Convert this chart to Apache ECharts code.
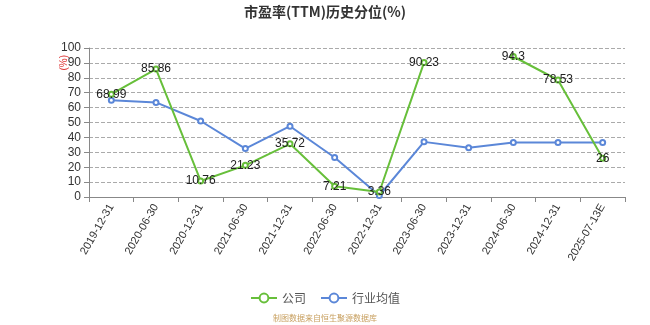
<!DOCTYPE html>
<html><head><meta charset="utf-8">
<script src="https://cdn.jsdelivr.net/npm/echarts@6/dist/echarts.min.js"></script>
<style>html,body{margin:0;padding:0;background:#fff}#c{width:650px;height:325px}</style>
</head><body><div id="c"></div>
<script>
var categories = ['2019-12-31','2020-06-30','2020-12-31','2021-06-30','2021-12-31','2022-06-30','2022-12-31','2023-06-30','2023-12-31','2024-06-30','2024-12-31','2025-07-13E'];
var companyValues = [68.99, 85.86, 10.76, 21.23, 35.72, 7.21, 3.36, 90.23, null, 94.3, 78.53, 26];
var industryValues = [65, 63.5, 51, 32.5, 47.5, 26.5, 1, 37, 33, 36.5, 36.5, 36.5];
var yTicks = {min: 0, max: 100, interval: 10};

var chart = echarts.init(document.getElementById('c'));
chart.setOption({
  animation: false,
  title: [{
    text: '市盈率(TTM)历史分位(%)', left: 'center', top: 0,
    textStyle: {fontSize: 14, fontWeight: 'bold', color: '#333', fontFamily: 'Noto Sans CJK SC'}
  }, {
    text: '制图数据来自恒生聚源数据库', left: 'center', top: 309,
    textStyle: {fontSize: 8, fontWeight: 'normal', color: '#c8a060', fontFamily: 'Noto Sans CJK SC'}
  }],
  graphic: [{
    type: 'text', left: 59, top: 55, rotation: Math.PI / 2,
    style: {text: '(%)', fill: '#d33', fontSize: 10}
  }],
  legend: {
    bottom: 16, left: 'center', itemWidth: 26, itemHeight: 11, itemGap: 14,
    textStyle: {fontSize: 12, color: '#555', fontFamily: 'Noto Sans CJK SC'},
    data: ['公司', '行业均值']
  },
  grid: {left: 89, right: 25, top: 48, bottom: 128},
  xAxis: {
    type: 'category', data: categories, boundaryGap: true,
    axisLine: {lineStyle: {color: '#888'}},
    axisTick: {show: true, lineStyle: {color: '#888'}},
    axisLabel: {rotate: 60, fontSize: 11, color: '#333', interval: 0, margin: 8}
  },
  yAxis: {
    type: 'value', min: yTicks.min, max: yTicks.max, interval: yTicks.interval,
    axisLine: {show: true, lineStyle: {color: '#888'}},
    axisTick: {show: true, lineStyle: {color: '#888'}},
    axisLabel: {fontSize: 12, color: '#333'},
    splitLine: {lineStyle: {type: 'dashed', color: '#aaa'}}
  },
  series: [{
    name: '公司', type: 'line', data: companyValues, connectNulls: false,
    symbol: 'emptyCircle', symbolSize: 5,
    itemStyle: {color: '#67bf3a'}, lineStyle: {width: 2, color: '#67bf3a'},
    label: {show: true, position: 'inside', fontSize: 12, color: '#222'},
    z: 3
  }, {
    name: '行业均值', type: 'line', data: industryValues,
    symbol: 'emptyCircle', symbolSize: 5,
    itemStyle: {color: '#5b87d8'}, lineStyle: {width: 2, color: '#5b87d8'},
    z: 2
  }]
});
</script></body></html>
